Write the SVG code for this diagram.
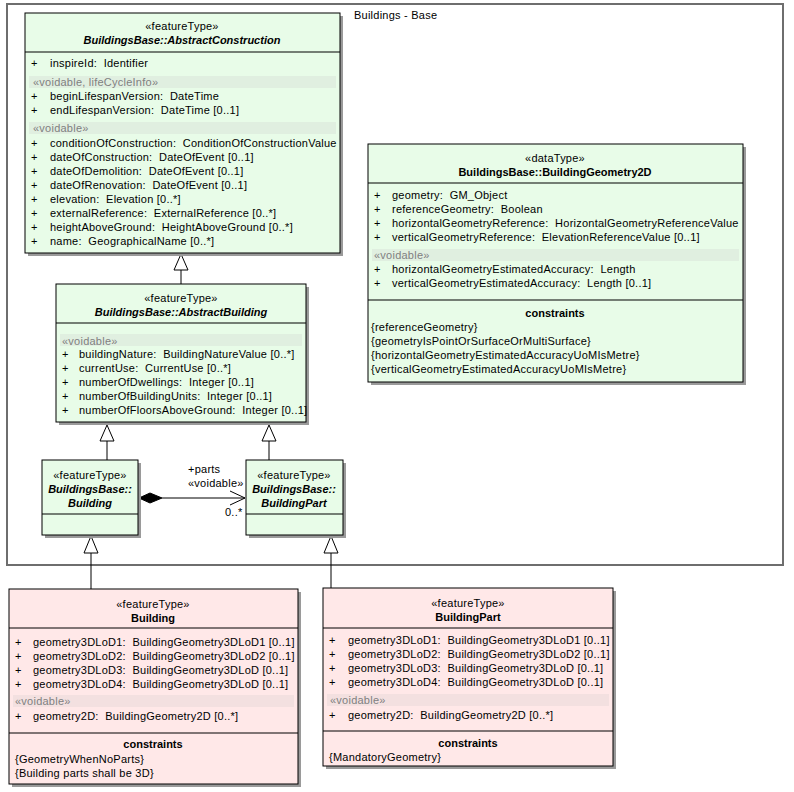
<svg xmlns="http://www.w3.org/2000/svg" width="794" height="792" viewBox="0 0 794 792" xml:space="preserve">
<style>
text{font-family:"Liberation Sans",Arial,sans-serif;font-size:11px;fill:#000;white-space:pre;letter-spacing:0.24px}
.c{text-anchor:middle}
.b{font-weight:bold;letter-spacing:0}
.i{font-style:italic}
.v{fill:#808080}
.gbox{fill:#E8FCE8;stroke:#000;stroke-width:1}
.pbox{fill:#FFE8E8;stroke:#000;stroke-width:1}
.sh{fill:#9a9a9a}
.gband{fill:#E0EFE0}
.pband{fill:#F3E0E0}
.sep{stroke:#000;stroke-width:1}
.ln{stroke:#000;stroke-width:1;fill:none}
.tri{fill:#fff;stroke:#000;stroke-width:1}
</style>
<rect width="794" height="792" fill="#fff"/>
<g id="package">
<rect x="7" y="4" width="776" height="561" fill="#fff" stroke="#6e6e6e" stroke-width="2"/>
<text x="354" y="19">Buildings - Base</text>
</g>

<g id="connectors">
<line class="ln" x1="181" y1="270" x2="181" y2="284"/>
<polygon class="tri" points="181,254 174,270 188,270"/>
<line class="ln" x1="107" y1="441" x2="107" y2="460"/>
<polygon class="tri" points="107,425 100,441 114,441"/>
<line class="ln" x1="269" y1="441" x2="269" y2="460"/>
<polygon class="tri" points="269,425 262,441 276,441"/>
<line class="ln" x1="91" y1="553" x2="91" y2="589"/>
<polygon class="tri" points="91,536 84,553 98,553"/>
<line class="ln" x1="331" y1="553" x2="331" y2="588"/>
<polygon class="tri" points="331,536 324,553 338,553"/>
<line class="ln" x1="162" y1="498" x2="245" y2="498"/>
<polygon points="139,498 150,493 162,498 150,503" fill="#000" stroke="#000"/>
<polyline class="ln" points="230,491 245,498 230,505"/>
<text x="188" y="473">+parts</text>
<text x="188" y="487">«voidable»</text>
<text x="225" y="516">0..*</text>
</g>

<g id="AbstractConstruction">
<rect class="sh" x="28" y="16" width="315" height="240"/>
<rect class="gbox" x="25" y="13" width="315" height="240"/>
<text class="c" x="182" y="30">«featureType»</text>
<text class="c b i" x="182" y="44">BuildingsBase::AbstractConstruction</text>
<line class="sep" x1="25" y1="52" x2="340" y2="52"/>
<text x="31" y="67">+</text><text x="50" y="67">inspireId:  Identifier</text>
<rect class="gband" x="29" y="76" width="307" height="12"/>
<text class="v" x="33" y="86">«voidable, lifeCycleInfo»</text>
<text x="31" y="100">+</text><text x="50" y="100">beginLifespanVersion:  DateTime</text>
<text x="31" y="114">+</text><text x="50" y="114">endLifespanVersion:  DateTime [0..1]</text>
<rect class="gband" x="29" y="122" width="307" height="12"/>
<text class="v" x="33" y="132">«voidable»</text>
<text x="31" y="147">+</text><text x="50" y="147">conditionOfConstruction:  ConditionOfConstructionValue</text>
<text x="31" y="161">+</text><text x="50" y="161">dateOfConstruction:  DateOfEvent [0..1]</text>
<text x="31" y="175">+</text><text x="50" y="175">dateOfDemolition:  DateOfEvent [0..1]</text>
<text x="31" y="189">+</text><text x="50" y="189">dateOfRenovation:  DateOfEvent [0..1]</text>
<text x="31" y="203">+</text><text x="50" y="203">elevation:  Elevation [0..*]</text>
<text x="31" y="217">+</text><text x="50" y="217">externalReference:  ExternalReference [0..*]</text>
<text x="31" y="231">+</text><text x="50" y="231">heightAboveGround:  HeightAboveGround [0..*]</text>
<text x="31" y="245">+</text><text x="50" y="245">name:  GeographicalName [0..*]</text>
</g>

<g id="AbstractBuilding">
<rect class="sh" x="59" y="287" width="250" height="138"/>
<rect class="gbox" x="56" y="284" width="250" height="138"/>
<text class="c" x="181" y="302">«featureType»</text>
<text class="c b i" x="181" y="316">BuildingsBase::AbstractBuilding</text>
<line class="sep" x1="56" y1="323" x2="306" y2="323"/>
<rect class="gband" x="60" y="334" width="242" height="12"/>
<text class="v" x="62" y="345">«voidable»</text>
<text x="62" y="358">+</text><text x="79" y="358">buildingNature:  BuildingNatureValue [0..*]</text>
<text x="62" y="372">+</text><text x="79" y="372">currentUse:  CurrentUse [0..*]</text>
<text x="62" y="386">+</text><text x="79" y="386">numberOfDwellings:  Integer [0..1]</text>
<text x="62" y="400">+</text><text x="79" y="400">numberOfBuildingUnits:  Integer [0..1]</text>
<text x="62" y="414">+</text><text x="79" y="414">numberOfFloorsAboveGround:  Integer [0..1]</text>
</g>

<g id="BuildingBase_Building">
<rect class="sh" x="45" y="463" width="96" height="75"/>
<rect class="gbox" x="42" y="460" width="96" height="75"/>
<text class="c" x="90" y="479">«featureType»</text>
<text class="c b i" x="90" y="493">BuildingsBase::</text>
<text class="c b i" x="90" y="507">Building</text>
<line class="sep" x1="42" y1="514" x2="138" y2="514"/>
</g>

<g id="BuildingBase_BuildingPart">
<rect class="sh" x="249" y="463" width="97" height="75"/>
<rect class="gbox" x="246" y="460" width="97" height="75"/>
<text class="c" x="294" y="479">«featureType»</text>
<text class="c b i" x="294" y="493">BuildingsBase::</text>
<text class="c b i" x="294" y="507">BuildingPart</text>
<line class="sep" x1="246" y1="514" x2="343" y2="514"/>
</g>

<g id="BuildingGeometry2D">
<rect class="sh" x="371" y="147" width="375" height="238"/>
<rect class="gbox" x="368" y="144" width="375" height="238"/>
<text class="c" x="555" y="162">«dataType»</text>
<text class="c b" x="555" y="176">BuildingsBase::BuildingGeometry2D</text>
<line class="sep" x1="368" y1="183" x2="743" y2="183"/>
<text x="374" y="199">+</text><text x="392" y="199">geometry:  GM_Object</text>
<text x="374" y="213">+</text><text x="392" y="213">referenceGeometry:  Boolean</text>
<text x="374" y="227">+</text><text x="392" y="227">horizontalGeometryReference:  HorizontalGeometryReferenceValue</text>
<text x="374" y="241">+</text><text x="392" y="241">verticalGeometryReference:  ElevationReferenceValue [0..1]</text>
<rect class="gband" x="372" y="249" width="367" height="12"/>
<text class="v" x="374" y="259">«voidable»</text>
<text x="374" y="273">+</text><text x="392" y="273">horizontalGeometryEstimatedAccuracy:  Length</text>
<text x="374" y="287">+</text><text x="392" y="287">verticalGeometryEstimatedAccuracy:  Length [0..1]</text>
<line class="sep" x1="368" y1="300" x2="743" y2="300"/>
<text class="c b" x="555" y="317">constraints</text>
<text x="371" y="331">{referenceGeometry}</text>
<text x="371" y="345">{geometryIsPointOrSurfaceOrMultiSurface}</text>
<text x="371" y="359">{horizontalGeometryEstimatedAccuracyUoMIsMetre}</text>
<text x="371" y="373">{verticalGeometryEstimatedAccuracyUoMIsMetre}</text>
</g>

<g id="Building">
<rect class="sh" x="12" y="592" width="289" height="195"/>
<rect class="pbox" x="9" y="589" width="289" height="195"/>
<text class="c" x="153" y="608">«featureType»</text>
<text class="c b" x="153" y="622">Building</text>
<line class="sep" x1="9" y1="628" x2="298" y2="628"/>
<text x="15" y="646">+</text><text x="33" y="646">geometry3DLoD1:  BuildingGeometry3DLoD1 [0..1]</text>
<text x="15" y="660">+</text><text x="33" y="660">geometry3DLoD2:  BuildingGeometry3DLoD2 [0..1]</text>
<text x="15" y="674">+</text><text x="33" y="674">geometry3DLoD3:  BuildingGeometry3DLoD [0..1]</text>
<text x="15" y="688">+</text><text x="33" y="688">geometry3DLoD4:  BuildingGeometry3DLoD [0..1]</text>
<rect class="pband" x="13" y="695" width="281" height="12"/>
<text class="v" x="15" y="705">«voidable»</text>
<text x="15" y="720">+</text><text x="33" y="720">geometry2D:  BuildingGeometry2D [0..*]</text>
<line class="sep" x1="9" y1="733" x2="298" y2="733"/>
<text class="c b" x="153" y="748">constraints</text>
<text x="15" y="763">{GeometryWhenNoParts}</text>
<text x="15" y="777">{Building parts shall be 3D}</text>
</g>

<g id="BuildingPart">
<rect class="sh" x="326" y="591" width="290" height="178"/>
<rect class="pbox" x="323" y="588" width="290" height="178"/>
<text class="c" x="468" y="607">«featureType»</text>
<text class="c b" x="468" y="621">BuildingPart</text>
<line class="sep" x1="323" y1="628" x2="613" y2="628"/>
<text x="329" y="644">+</text><text x="348" y="644">geometry3DLoD1:  BuildingGeometry3DLoD1 [0..1]</text>
<text x="329" y="658">+</text><text x="348" y="658">geometry3DLoD2:  BuildingGeometry3DLoD2 [0..1]</text>
<text x="329" y="672">+</text><text x="348" y="672">geometry3DLoD3:  BuildingGeometry3DLoD [0..1]</text>
<text x="329" y="686">+</text><text x="348" y="686">geometry3DLoD4:  BuildingGeometry3DLoD [0..1]</text>
<rect class="pband" x="327" y="694" width="282" height="12"/>
<text class="v" x="330" y="704">«voidable»</text>
<text x="329" y="719">+</text><text x="348" y="719">geometry2D:  BuildingGeometry2D [0..*]</text>
<line class="sep" x1="323" y1="731" x2="613" y2="731"/>
<text class="c b" x="468" y="747">constraints</text>
<text x="329" y="761">{MandatoryGeometry}</text>
</g>
</svg>
